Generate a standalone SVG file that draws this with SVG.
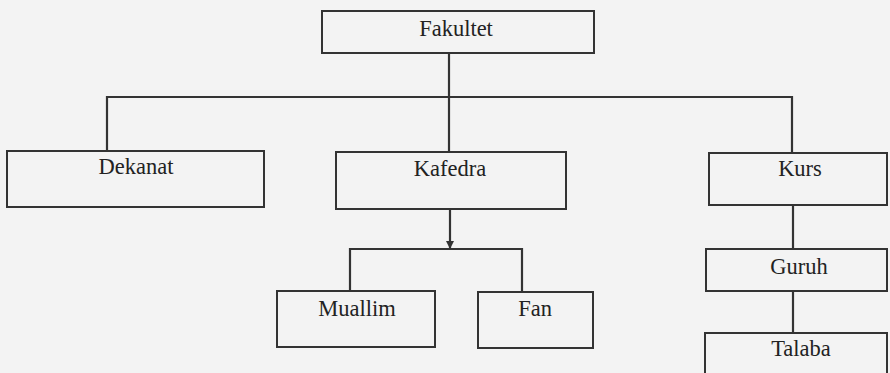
<svg xmlns="http://www.w3.org/2000/svg" width="890" height="373" viewBox="0 0 890 373">
<style>
.box{fill:none;stroke:#333;stroke-width:2}
.lbl{font-family:"Liberation Serif","Times New Roman",serif;font-size:22.5px;fill:#222;text-anchor:middle}
.con{fill:none;stroke:#333;stroke-width:2.2}
</style>
<defs>
<marker id="arr" markerWidth="8" markerHeight="8" refX="7" refY="4" orient="auto" markerUnits="userSpaceOnUse">
<path d="M0,0 L8,4 L0,8 Z" fill="#333"/>
</marker>
</defs>
<rect x="0" y="0" width="890" height="373" fill="#f3f3f3"/>
<g id="connectors">
<line class="con" x1="449" y1="53" x2="449" y2="152"/>
<polyline class="con" points="107,152 107,97 792,97 792,152"/>
<line class="con" x1="450" y1="209" x2="450" y2="248" marker-end="url(#arr)"/>
<polyline class="con" points="350,291 350,249 522,249 522,291"/>
<line class="con" x1="793" y1="205" x2="793" y2="249"/>
<line class="con" x1="793" y1="291" x2="793" y2="333"/>
</g>
<g id="fakultet"><rect class="box" x="322" y="11" width="272" height="42"/><text class="lbl" x="456" y="36">Fakultet</text></g>
<g id="dekanat"><rect class="box" x="7" y="151" width="257" height="56"/><text class="lbl" x="136" y="174">Dekanat</text></g>
<g id="kafedra"><rect class="box" x="336" y="152" width="230" height="57"/><text class="lbl" x="450" y="176">Kafedra</text></g>
<g id="kurs"><rect class="box" x="709" y="153" width="178" height="52"/><text class="lbl" x="800" y="176">Kurs</text></g>
<g id="muallim"><rect class="box" x="277" y="291" width="158" height="56"/><text class="lbl" x="357" y="316">Muallim</text></g>
<g id="fan"><rect class="box" x="478" y="292" width="115" height="56"/><text class="lbl" x="535" y="316">Fan</text></g>
<g id="guruh"><rect class="box" x="706" y="249" width="181" height="42"/><text class="lbl" x="799" y="274">Guruh</text></g>
<g id="talaba"><rect class="box" x="705" y="333" width="182" height="60"/><text class="lbl" x="801" y="356">Talaba</text></g>
</svg>
